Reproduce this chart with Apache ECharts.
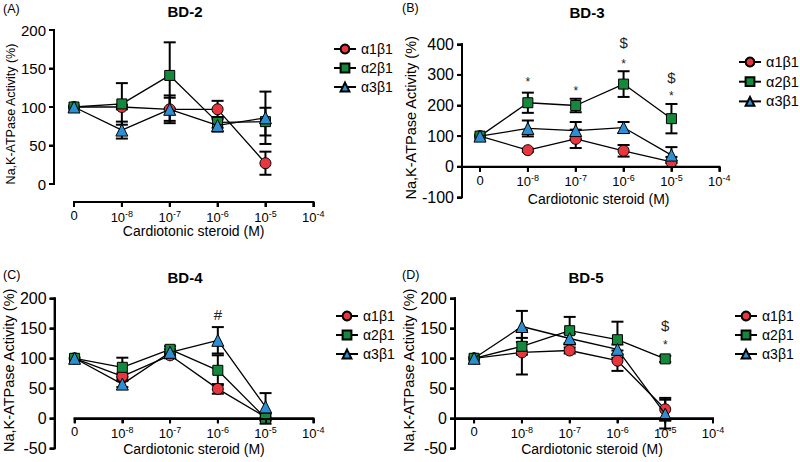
<!DOCTYPE html>
<html><head><meta charset="utf-8">
<script src="https://cdn.jsdelivr.net/npm/echarts@6/dist/echarts.min.js"></script>
<style>html,body{margin:0;padding:0;background:#fff}#c{width:800px;height:462px}</style>
</head><body><div id="c"></div>
<script>
// ---------- data ----------
const xTickLabels = ['0', '10^-8', '10^-7', '10^-6', '10^-5', '10^-4'];
const xTickValues = [0, 1, 2, 3, 4, 5];
const doseIndex = [0, 1, 2, 3, 4];
const seriesNames = ['α1β1', 'α2β1', 'α3β1'];
const panelTitles = ['BD-2', 'BD-3', 'BD-4', 'BD-5'];
const panelLetters = ['(A)', '(B)', '(C)', '(D)'];
const yAxisTitle = 'Na,K-ATPase Activity (%)';
const xAxisTitle = 'Cardiotonic steroid (M)';

// BD-2
const bd2_a1 = [100, 100, 97, 97, 27];   const bd2_a1_err = [0, 3, 15, 11, 15];
const bd2_a2 = [100, 104, 141, 80, 81];  const bd2_a2_err = [0, 27, 43, 7, 18];
const bd2_a3 = [100, 70, 97, 76, 86];    const bd2_a3_err = [0, 11, 18, 8, 34];
// BD-3
const bd3_a1 = [100, 54, 91, 52, 16];    const bd3_a1_err = [0, 5, 30, 19, 16];
const bd3_a2 = [100, 209, 200, 270, 157];const bd3_a2_err = [0, 33, 22, 42, 48];
const bd3_a3 = [100, 125, 118, 128, 38]; const bd3_a3_err = [0, 26, 28, 18, 26];
// BD-4
const bd4_a1 = [100, 70, 105, 49, 2];    const bd4_a1_err = [0, 5, 5, 8, 5];
const bd4_a2 = [100, 85, 115, 80, 0];    const bd4_a2_err = [0, 16, 5, 25, 9];
const bd4_a3 = [100, 57, 110, 130, 19];  const bd4_a3_err = [0, 5, 5, 22, 23];
// BD-5
const bd5_a1 = [100, 110, 113, 96, 15];  const bd5_a1_err = [0, 37, 5, 17, 19];
const bd5_a2 = [100, 120, 146, 131, 99]; const bd5_a2_err = [0, 14, 23, 30, 5];
const bd5_a3 = [100, 153, 133, 115, 7];  const bd5_a3_err = [0, 26, 8, 8, 24];

// significance marks
const bd3_noteX = [1, 2, 3, 3, 4, 4];
const bd3_noteY = [285, 256, 344, 405, 240, 291];
const bd3_noteT = ['*', '*', '*', '$', '*', '$'];
const bd4_noteX = [3];
const bd4_noteY = [173];
const bd4_noteT = ['#'];
const bd5_noteX = [4, 4];
const bd5_noteY = [127, 155];
const bd5_noteT = ['*', '$'];

// y axis tick values
const yTicksA = [0, 50, 100, 150, 200];
const yTicksB = [-100, 0, 100, 200, 300, 400];
const yTicksC = [-50, 0, 50, 100, 150, 200];
const yTicksD = [-50, 0, 50, 100, 150, 200];

// ---------- styling / layout ----------
const colors = ['#e8363f', '#15893b', '#2c8fd4'];
const symbols = ['circle', 'rect', 'triangle'];
const symbolSizes = [11, 10, 12];
const FONT = 'Liberation Sans, Arial, sans-serif';

const panels = [
  { vals: [bd2_a1, bd2_a2, bd2_a3], errs: [bd2_a1_err, bd2_a2_err, bd2_a3_err], notes: null, yTicks: yTicksA,
    grid: { left: 74, top: 30, width: 239.3, height: 154 }, xMin: 0, xBelow: 18, yOffset: 20,
    yNameGap: 37, yNameSize: 12.5, yNamePad: [0, 14, 0, 0], yLabelSize: 15, xNameGap: 21, xNamePad: [0, 0, 0, 0],
    legend: { left: 328, top: 36, gap: 3, w: 22, fs: 14 }, title: [185, 11], letter: [3, 9] },
  { vals: [bd3_a1, bd3_a2, bd3_a3], errs: [bd3_a1_err, bd3_a2_err, bd3_a3_err], notes: [bd3_noteX, bd3_noteY, bd3_noteT], yTicks: yTicksB,
    grid: { left: 462, top: 44.3, width: 257.3, height: 153 }, xMin: -0.376, xBelow: null, yOffset: 0,
    yNameGap: 43, yNameSize: 14.5, yNamePad: [0, 0, 0, 6], yLabelSize: 16, xNameGap: 25, xNamePad: [0, 0, 0, 16],
    legend: { left: 733, top: 49, gap: 3.7, w: 22, fs: 14.5 }, title: [587, 12], letter: [402, 8] },
  { vals: [bd4_a1, bd4_a2, bd4_a3], errs: [bd4_a1_err, bd4_a2_err, bd4_a3_err], notes: [bd4_noteX, bd4_noteY, bd4_noteT], yTicks: yTicksC,
    grid: { left: 74, top: 298.3, width: 239.3, height: 150 }, xMin: 0, xBelow: null, yOffset: 20,
    yNameGap: 35, yNameSize: 14.5, yNamePad: [0, 0, 0, 6], yLabelSize: 16, xNameGap: 24, xNamePad: [0, 0, 0, 0],
    legend: { left: 330, top: 303, gap: 3, w: 22, fs: 14 }, title: [185, 277.5], letter: [3, 275] },
  { vals: [bd5_a1, bd5_a2, bd5_a3], errs: [bd5_a1_err, bd5_a2_err, bd5_a3_err], notes: [bd5_noteX, bd5_noteY, bd5_noteT], yTicks: yTicksD,
    grid: { left: 455, top: 298.3, width: 258, height: 150 }, xMin: -0.4, xBelow: null, yOffset: 0,
    yNameGap: 37, yNameSize: 14.5, yNamePad: [0, 0, 0, 6], yLabelSize: 16, xNameGap: 24, xNamePad: [0, 0, 0, 16],
    legend: { left: 729, top: 303, gap: 3, w: 22, fs: 14 }, title: [586, 277.5], letter: [402, 275] }
];

function xLabelFormatter(v) {
  const s = xTickLabels[Math.round(v)];
  if (s === undefined) return '';
  if (s.indexOf('^') < 0) return '{b|' + s + '}';
  const parts = s.split('^');
  return '{b|' + parts[0] + '}{s|' + parts[1] + '}';
}

function lineStyle() { return { stroke: '#000', lineWidth: 2 }; }

function errRender(params, api) {
  const x = api.value(0), y = api.value(1), e = api.value(2);
  if (!e) return null;
  const top = api.coord([x, y + e]);
  const bot = api.coord([x, y - e]);
  const hw = 6;
  return {
    type: 'group',
    children: [
      { type: 'line', shape: { x1: top[0], y1: top[1], x2: bot[0], y2: bot[1] }, style: lineStyle() },
      { type: 'line', shape: { x1: top[0] - hw, y1: top[1], x2: top[0] + hw, y2: top[1] }, style: lineStyle() },
      { type: 'line', shape: { x1: bot[0] - hw, y1: bot[1], x2: bot[0] + hw, y2: bot[1] }, style: lineStyle() }
    ]
  };
}

function makeNoteRender(texts) {
  return function (params, api) {
    const t = texts[params.dataIndex];
    const p = api.coord([api.value(0), api.value(1)]);
    const isStar = t === '*';
    return {
      type: 'text',
      x: p[0], y: p[1] + (isStar ? 3 : 0),
      style: { text: t, fill: '#222', fontFamily: FONT, fontSize: isStar ? 12 : 15, align: 'center', verticalAlign: 'middle' }
    };
  };
}

// axis frame segments (pixel) computed through the panel's scales
function axisSegments(P, coord) {
  const yMin = P.yTicks[0], yMax = P.yTicks[P.yTicks.length - 1];
  const segs = [];
  const ax = coord([P.xMin, yMin])[0] - P.yOffset;
  const yTopPx = coord([P.xMin, yMax])[1];
  const yBotPx = coord([P.xMin, yMin])[1];
  segs.push([ax, yTopPx - 1, ax, yBotPx + 1]);
  P.yTicks.forEach(v => { const py = coord([P.xMin, v])[1]; segs.push([ax - 5, py, ax, py]); });
  const ay = P.xBelow !== null ? yBotPx + P.xBelow : coord([0, 0])[1];
  const xl = coord([P.xMin, 0])[0], xr = coord([xTickValues[xTickValues.length - 1], 0])[0];
  segs.push([xl - 1, ay, xr + 1, ay]);
  xTickValues.forEach(v => { const px = coord([v, 0])[0]; segs.push([px, ay, px, ay + 5]); });
  return segs;
}

function makeAxisRender(P) {
  return function (params, api) {
    const segs = axisSegments(P, p => api.coord(p));
    return {
      type: 'group',
      children: segs.map(s => ({ type: 'rect', shape: {
        x: Math.min(s[0], s[2]) - (s[0] === s[2] ? 1 : 0),
        y: Math.min(s[1], s[3]) - (s[1] === s[3] ? 1 : 0),
        width: Math.abs(s[2] - s[0]) || 2,
        height: Math.abs(s[3] - s[1]) || 2 }, style: { fill: '#000' } }))
    };
  };
}

const grid = [], xAxis = [], yAxis = [], series = [], legend = [], graphic = [];

panels.forEach((P, i) => {
  const yMin = P.yTicks[0], yMax = P.yTicks[P.yTicks.length - 1];
  grid.push(P.grid);
  const xOffset = P.xBelow !== null ? P.xBelow : -P.grid.height * (0 - yMin) / (yMax - yMin);
  xAxis.push({
    type: 'value', gridIndex: i, min: P.xMin, max: 5, interval: 1, offset: xOffset, position: 'bottom', z: 20,
    axisLine: { show: true, onZero: false, lineStyle: { color: '#000', width: 2 } },
    axisTick: { show: true, customValues: xTickValues, length: 5, lineStyle: { color: '#000', width: 2 } },
    axisLabel: {
      customValues: xTickValues, margin: 7, formatter: xLabelFormatter,
      rich: {
        b: { fontSize: 13, color: '#000', fontFamily: FONT },
        s: { fontSize: 9, color: '#000', fontFamily: FONT, padding: [0, 0, 7, 0] }
      }
    },
    splitLine: { show: false },
    name: xAxisTitle, nameLocation: 'middle', nameGap: P.xNameGap,
    nameTextStyle: { fontSize: 14, color: '#000', fontFamily: FONT, padding: P.xNamePad }
  });
  yAxis.push({
    type: 'value', gridIndex: i, min: yMin, max: yMax, interval: P.yTicks[1] - P.yTicks[0], offset: P.yOffset, position: 'left', z: 20,
    axisLine: { show: true, onZero: false, lineStyle: { color: '#000', width: 2 } },
    axisTick: { show: true, length: 5, lineStyle: { color: '#000', width: 2 } },
    axisLabel: { fontSize: P.yLabelSize, color: '#000', margin: 8, fontFamily: FONT },
    splitLine: { show: false },
    name: yAxisTitle, nameLocation: 'middle', nameGap: P.yNameGap,
    nameTextStyle: { fontSize: P.yNameSize, color: '#000', fontFamily: FONT, padding: P.yNamePad }
  });

  // axes frame drawn through the panel scales (filled bars)
  series.push({
    type: 'custom', xAxisIndex: i, yAxisIndex: i, silent: true, z: 1, clip: false,
    renderItem: makeAxisRender(P), data: [[1, 100]]
  });
  // error bars
  P.vals.forEach((vals, k) => {
    series.push({
      type: 'custom', xAxisIndex: i, yAxisIndex: i, silent: true, z: 2, clip: false,
      renderItem: errRender,
      data: doseIndex.map((x, j) => [x, vals[j], P.errs[k][j]])
    });
  });
  // lines + markers
  P.vals.forEach((vals, k) => {
    series.push({
      type: 'line', name: seriesNames[k], xAxisIndex: i, yAxisIndex: i, z: 3 + k,
      data: doseIndex.map((x, j) => [x, vals[j]]),
      symbol: symbols[k], symbolSize: symbolSizes[k], showAllSymbol: true,
      lineStyle: { color: '#000', width: 1.3 },
      itemStyle: { color: colors[k], borderColor: '#000', borderWidth: 1 },
      emphasis: { disabled: true }, clip: false
    });
  });
  // significance notes
  if (P.notes) {
    series.push({
      type: 'custom', xAxisIndex: i, yAxisIndex: i, silent: true, z: 10, clip: false,
      renderItem: makeNoteRender(P.notes[2]),
      data: P.notes[0].map((x, j) => [x, P.notes[1][j]])
    });
  }
  legend.push({
    data: seriesNames, orient: 'vertical', left: P.legend.left, top: P.legend.top,
    itemWidth: P.legend.w, itemHeight: 11, itemGap: P.legend.gap, selectedMode: false,
    textStyle: { fontSize: P.legend.fs, lineHeight: 16, color: '#000', fontFamily: FONT }
  });
  graphic.push({
    type: 'text', x: P.title[0], y: P.title[1],
    style: { text: panelTitles[i], fontFamily: FONT, fontWeight: 'bold', fontSize: 15, fill: '#000', align: 'center', verticalAlign: 'middle' }
  });
  graphic.push({
    type: 'text', x: P.letter[0], y: P.letter[1],
    style: { text: panelLetters[i], fontFamily: FONT, fontSize: 12.5, fill: '#000', align: 'left', verticalAlign: 'middle' }
  });
});

const chart = echarts.init(document.getElementById('c'), null, { renderer: 'svg' });
chart.setOption({
  animation: false,
  backgroundColor: '#fff',
  textStyle: { fontFamily: FONT },
  grid, xAxis, yAxis, series, legend, graphic
});
</script>
</body></html>
